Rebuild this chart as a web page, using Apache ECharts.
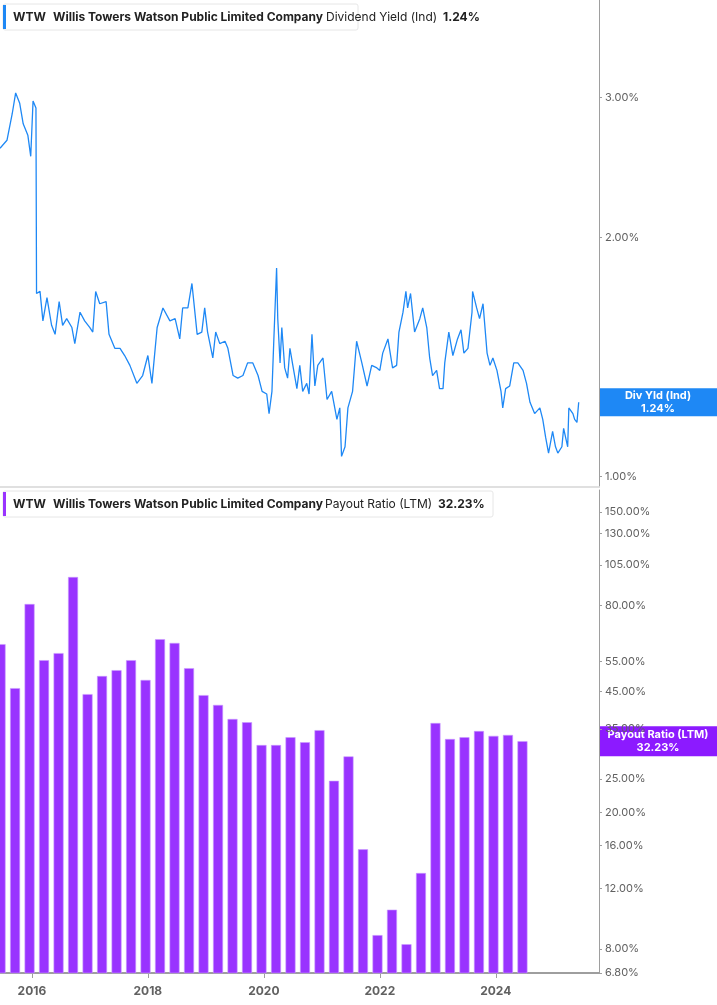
<!DOCTYPE html>
<html>
<head>
<meta charset="utf-8">
<script src="https://cdn.jsdelivr.net/npm/echarts@6/dist/echarts.min.js"></script>
<style>
  html, body { margin: 0; padding: 0; background: #fff; }
  #chart { width: 717px; height: 1005px; }
</style>
</head>
<body>
<div id="chart"></div>
<script>
// 股息率（日度，近似读数），x 为小数年份
var yieldDates = [2015.45, 2015.57, 2015.66, 2015.72, 2015.79, 2015.85, 2015.93, 2015.98, 2016.02, 2016.07, 2016.08,
    2016.14, 2016.19, 2016.26, 2016.34, 2016.40, 2016.47, 2016.53, 2016.60, 2016.69, 2016.74, 2016.83, 2016.91,
    2017.00, 2017.05, 2017.10, 2017.17, 2017.28, 2017.33, 2017.43, 2017.52, 2017.60, 2017.69, 2017.81, 2017.91,
    2018.00, 2018.07, 2018.16, 2018.26, 2018.38, 2018.47, 2018.55, 2018.60, 2018.69, 2018.76, 2018.79, 2018.85,
    2018.93, 2018.98, 2019.03, 2019.12, 2019.17, 2019.24, 2019.33, 2019.38, 2019.47, 2019.55, 2019.64, 2019.72,
    2019.81, 2019.90, 2019.97, 2020.05, 2020.09, 2020.14, 2020.17, 2020.22, 2020.24, 2020.28, 2020.31, 2020.36,
    2020.41, 2020.45, 2020.50, 2020.57, 2020.62, 2020.67, 2020.74, 2020.78, 2020.83, 2020.88, 2020.93, 2021.02,
    2021.09, 2021.17, 2021.26, 2021.31, 2021.34, 2021.40, 2021.45, 2021.53, 2021.60, 2021.69, 2021.78, 2021.86,
    2021.95, 2022.00, 2022.05, 2022.14, 2022.22, 2022.29, 2022.33, 2022.40, 2022.45, 2022.48, 2022.53, 2022.60,
    2022.69, 2022.74, 2022.81, 2022.86, 2022.91, 2022.98, 2023.03, 2023.09, 2023.12, 2023.19, 2023.26, 2023.34,
    2023.40, 2023.45, 2023.52, 2023.59, 2023.60, 2023.67, 2023.72, 2023.78, 2023.85, 2023.90, 2023.95, 2024.02,
    2024.09, 2024.12, 2024.17, 2024.24, 2024.31, 2024.38, 2024.47, 2024.53, 2024.59, 2024.67, 2024.76, 2024.81,
    2024.86, 2024.91, 2024.98, 2025.03, 2025.07, 2025.14, 2025.17, 2025.24, 2025.26, 2025.33, 2025.36, 2025.40,
    2025.43];
var yieldValues = [2.59, 2.65, 2.86, 3.04, 2.95, 2.78, 2.69, 2.53, 2.97, 2.91, 1.70,
    1.71, 1.57, 1.68, 1.55, 1.51, 1.66, 1.55, 1.58, 1.54, 1.47, 1.61, 1.57,
    1.54, 1.52, 1.71, 1.65, 1.66, 1.51, 1.45, 1.45, 1.42, 1.38, 1.31, 1.34,
    1.42, 1.31, 1.54, 1.63, 1.57, 1.58, 1.49, 1.63, 1.63, 1.75, 1.76, 1.51,
    1.52, 1.63, 1.52, 1.41, 1.52, 1.47, 1.48, 1.45, 1.34, 1.33, 1.34, 1.39,
    1.39, 1.34, 1.28, 1.27, 1.20, 1.28, 1.47, 1.83, 1.58, 1.39, 1.54, 1.37,
    1.33, 1.45, 1.38, 1.29, 1.38, 1.28, 1.31, 1.27, 1.51, 1.30, 1.38, 1.41,
    1.25, 1.28, 1.18, 1.22, 1.06, 1.09, 1.22, 1.28, 1.48, 1.39, 1.30, 1.38,
    1.37, 1.36, 1.43, 1.49, 1.37, 1.38, 1.52, 1.61, 1.71, 1.63, 1.70, 1.52,
    1.58, 1.63, 1.54, 1.41, 1.34, 1.36, 1.29, 1.29, 1.39, 1.52, 1.42, 1.49,
    1.53, 1.43, 1.45, 1.61, 1.71, 1.63, 1.58, 1.65, 1.43, 1.38, 1.41, 1.36,
    1.28, 1.22, 1.29, 1.30, 1.39, 1.39, 1.36, 1.31, 1.24, 1.20, 1.22, 1.18,
    1.12, 1.07, 1.14, 1.09, 1.07, 1.09, 1.15, 1.09, 1.22, 1.20, 1.18, 1.17,
    1.24];

// 派息比率（季度，LTM）
var payoutDates = [2015.46, 2015.71, 2015.96, 2016.21, 2016.46, 2016.71, 2016.96, 2017.21, 2017.46, 2017.71,
    2017.96, 2018.21, 2018.46, 2018.71, 2018.96, 2019.21, 2019.46, 2019.71, 2019.96, 2020.21, 2020.46, 2020.71,
    2020.96, 2021.21, 2021.46, 2021.71, 2021.96, 2022.21, 2022.46, 2022.71, 2022.96, 2023.21, 2023.46, 2023.71,
    2023.96, 2024.21, 2024.46];
var payoutValues = [61.8, 46.0, 80.9, 55.5, 58.2, 97.0, 44.2, 49.9, 51.9, 55.5,
    48.6, 63.9, 62.3, 52.6, 43.9, 41.1, 37.4, 36.6, 31.4, 31.4, 33.1, 32.0,
    34.7, 24.7, 29.1, 15.6, 8.77, 10.4, 8.25, 13.3, 36.4, 32.7, 33.1, 34.5,
    33.4, 33.6, 32.23];

var yearTicks = [2016, 2018, 2020, 2022, 2024];
var yieldTicks = [0.97, 1, 2, 3];
var payoutTicks = [6.8, 8, 12, 16, 20, 25, 35, 45, 55, 80, 105, 130, 150];

var fontFam = 'Inter, "Noto Sans", sans-serif';
var axisGray = '#9e9e9e';
var labelGray = '#616161';

let myChart = echarts.init(document.getElementById('chart'));

function pct(v) {
    return v.toFixed(2) + '%';
}

let option = {
    animation: false,
    grid: [
        { left: 0, right: 118, top: 0, height: 487 },
        { left: 0, right: 118, top: 490, height: 483 }
    ],
    xAxis: [
        {
            gridIndex: 0, type: 'value', min: 2015.45, max: 2025.78,
            axisLine: { show: true, lineStyle: { color: '#e0e0e0', width: 2 } },
            axisTick: { show: false }, axisLabel: { show: false }, splitLine: { show: false }
        },
        {
            gridIndex: 1, type: 'value', min: 2015.45, max: 2025.78,
            axisLine: { show: true, lineStyle: { color: axisGray, width: 2 } },
            axisTick: { show: true, customValues: yearTicks, length: 5, lineStyle: { color: axisGray } },
            axisLabel: {
                customValues: yearTicks, color: labelGray, fontFamily: fontFam,
                fontWeight: 'bold', fontSize: 12, margin: 12,
                formatter: function(v) { return String(v); }
            },
            splitLine: { show: false }
        }
    ],
    yAxis: [
        {
            gridIndex: 0, type: 'log', position: 'right', min: 0.97, max: 3.98,
            axisLine: { show: true, lineStyle: { color: axisGray } },
            axisTick: { show: true, customValues: yieldTicks, length: 3, lineStyle: { color: axisGray } },
            axisLabel: {
                customValues: yieldTicks, color: labelGray, fontFamily: fontFam, fontSize: 11,
                margin: 6, formatter: pct
            },
            splitLine: { show: false }
        },
        {
            gridIndex: 1, type: 'log', position: 'right', min: 6.8, max: 173.9,
            axisLine: { show: true, lineStyle: { color: axisGray } },
            axisTick: { show: true, customValues: payoutTicks, length: 3, lineStyle: { color: axisGray } },
            axisLabel: {
                customValues: payoutTicks, color: labelGray, fontFamily: fontFam, fontSize: 11,
                margin: 6, formatter: pct
            },
            splitLine: { show: false }
        }
    ],
    series: [
        {
            name: 'Dividend Yield (Ind)', type: 'line', xAxisIndex: 0, yAxisIndex: 0,
            data: yieldDates.map(function(d, i) { return [d, yieldValues[i]]; }),
            showSymbol: false, lineStyle: { color: '#1e88f5', width: 1.3 }
        },
        {
            name: 'Payout Ratio (LTM)', type: 'bar', xAxisIndex: 1, yAxisIndex: 1,
            data: payoutDates.map(function(d, i) { return [d, payoutValues[i]]; }),
            barWidth: 10,
            itemStyle: { color: '#9933ff', borderColor: '#c99bff', borderWidth: 0.6 }
        }
    ]
};

myChart.setOption(option);

// 图例框与右侧标签
let yTag = myChart.convertToPixel({ yAxisIndex: 0 }, yieldValues[yieldValues.length - 1]);
let pTag = myChart.convertToPixel({ yAxisIndex: 1 }, payoutValues[payoutValues.length - 1]);

function legendBox(x, y, w, color, parts) {
    let children = [
        { type: 'rect', shape: { x: x, y: y, width: w, height: 26, r: 2 },
          style: { fill: '#fff', stroke: '#e6e6e6', lineWidth: 1 } },
        { type: 'rect', shape: { x: x, y: y + 1, width: 3, height: 24 }, style: { fill: color } }
    ];
    parts.forEach(function(p) {
        children.push({ type: 'text', x: x + p[0], y: y + 13,
            style: { text: p[1], fill: '#222', font: p[2] + ' 12px ' + fontFam, verticalAlign: 'middle' } });
    });
    return { type: 'group', children: children };
}

function sideTag(y, h, color, text) {
    return {
        type: 'group', children: [
            { type: 'rect', shape: { x: 599, y: y - h / 2, width: 118, height: h }, style: { fill: color } },
            { type: 'text', x: 658, y: y, style: { text: text, fill: '#fff', align: 'center',
                verticalAlign: 'middle', font: 'bold 11px ' + fontFam, lineHeight: 13 } }
        ]
    };
}

myChart.setOption({
    graphic: [
        legendBox(3, 4, 355, '#1e88f5', [
            [10, 'WTW', 'bold'], [50, 'Willis Towers Watson Public Limited Company', 'bold'],
            [323 - 0, '', 'normal'], [323, '', 'normal']
        ].slice(0, 2).concat([[322 - 0, '', 'normal']]).slice(0, 2)
         .concat([[323, '', 'normal']]).slice(0, 2)
         .concat([[322, 'Dividend Yield (Ind)', 'normal'], [440, '1.24%', 'bold']]).map(function(p, i) {
            if (i === 2) { return [323 - 0, p[1], p[2]]; }
            return p;
         })),
        legendBox(3, 491, 490, '#9933ff', [
            [10, 'WTW', 'bold'], [50, 'Willis Towers Watson Public Limited Company', 'bold'],
            [322, 'Payout Ratio (LTM)', 'normal'], [435, '32.23%', 'bold']
        ]),
        sideTag(yTag, 28, '#1e88f5', 'Div Yld (Ind)\n1.24%'),
        sideTag(pTag, 30, '#8c1aff', 'Payout Ratio (LTM)\n32.23%')
    ]
});

window.addEventListener('resize', function() {
    myChart.resize();
});
</script>
</body>
</html>
